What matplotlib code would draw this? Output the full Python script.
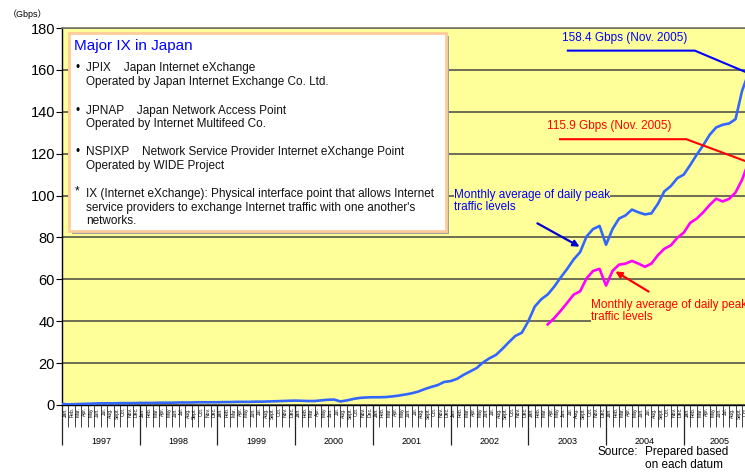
import numpy as np
import matplotlib
matplotlib.use("Agg")
import matplotlib.pyplot as plt
from matplotlib.patches import Rectangle
from matplotlib.ticker import NullFormatter

plt.rcParams['font.family'] = ['Liberation Sans', 'Noto Sans CJK JP', 'DejaVu Sans']

# monthly data, Jan 1997 .. Nov 2005 (Gbps)
peak_traffic = [
    0.5, 0.3, 0.4, 0.5, 0.6, 0.7, 0.8, 0.8, 0.8, 0.9, 0.9, 0.9,            # 1997
    1.0, 1.0, 1.0, 1.1, 1.1, 1.1, 1.2, 1.2, 1.2, 1.3, 1.3, 1.3,            # 1998
    1.3, 1.4, 1.4, 1.5, 1.5, 1.5, 1.6, 1.6, 1.7, 1.8, 1.9, 2.0,            # 1999
    2.1, 2.0, 1.9, 1.9, 2.2, 2.5, 2.6, 1.7, 2.2, 2.9, 3.4, 3.6,            # 2000
    3.7, 3.7, 3.8, 4.1, 4.5, 5.0, 5.6, 6.4, 7.6, 8.6, 9.5, 11.0,           # 2001
    11.4, 12.5, 14.4, 16.0, 17.6, 20.3, 22.3, 23.9, 26.8, 30.0, 33.0, 34.5,  # 2002
    40.0, 47.0, 50.5, 52.8, 56.5, 60.9, 65.0, 69.5, 73.0, 80.5, 84.0, 85.5,  # 2003
    76.5, 84.0, 89.0, 90.5, 93.3, 92.0, 91.0, 91.5, 96.0, 102.0, 104.5, 108.3,  # 2004
    110.0, 114.6, 119.5, 124.0, 129.0, 132.5, 133.8, 134.4, 136.5, 150.0, 158.4,  # 2005
]
# second series starts Apr 2003
second_start = 75
second_traffic = [
    38.5, 41.5, 45.0, 48.8, 52.7, 54.3, 60.5, 64.0, 65.0,                  # 2003
    57.0, 64.0, 67.0, 67.5, 68.8, 67.5, 66.0, 67.5, 71.5, 74.6, 76.2, 79.8,  # 2004
    82.3, 87.0, 89.0, 92.0, 95.5, 98.5, 97.2, 98.4, 101.5, 107.5, 115.9,     # 2005
]
month_names = ["Jan.", "Feb.", "Mar.", "Apr.", "May", "Jun.", "Jul.", "Aug.",
               "Sept.", "Oct.", "Nov.", "Dec."]
years = ["1997", "1998", "1999", "2000", "2001", "2002", "2003", "2004", "2005"]

W, H = 745, 472
fig = plt.figure(figsize=(W / 100, H / 100), dpi=100)


def fx(px):
    return px / W


def fy(py):
    return 1 - py / H


ax = fig.add_axes([fx(62), fy(405), 693 / W, 377 / H])
ax.set_facecolor('#FFFF99')

n = len(peak_traffic)
ax.plot(np.arange(n), peak_traffic, color='#3366FF', lw=1.9, zorder=3)
ax.plot(np.arange(second_start, second_start + len(second_traffic)), second_traffic,
        color='#FF00FF', lw=1.9, zorder=3)

ax.set_xlim(0, 107)
ax.set_ylim(0, 180)

# y axis
ax.set_yticks(range(0, 181, 20))
ax.tick_params(axis='y', labelsize=10.5, length=4, width=0.8, pad=1)
ax.set_axisbelow(True)
ax.yaxis.grid(True, color='#555548', lw=1.2)

# month axis
ax.set_xticks(np.arange(0, n + 1))
ax.xaxis.set_major_formatter(NullFormatter())
ax.set_xticks(np.arange(n) + 0.5, minor=True)
ax.set_xticklabels([month_names[i % 12] for i in range(n)], minor=True,
                   rotation=90, fontsize=3.6)
ax.tick_params(axis='x', which='major', length=16, width=0.6, color='#222222')
ax.tick_params(axis='x', which='minor', length=0, pad=1.5)

# year axis
sec = ax.secondary_xaxis('bottom')
sec.set_xticks(np.arange(0, n + 1, 12))
sec.xaxis.set_major_formatter(NullFormatter())
year_centers = [12 * k + 6 for k in range(len(years) - 1)] + [96 + (n - 96) / 2]
sec.set_xticks(year_centers, minor=True)
sec.set_xticklabels(years, minor=True, fontsize=6.5)
sec.tick_params(which='major', length=29, width=0.9, color='#222222')
sec.tick_params(which='minor', length=0, pad=23)
sec.spines['bottom'].set_visible(False)

for s in ['left', 'bottom']:
    ax.spines[s].set_color('black')
    ax.spines[s].set_linewidth(1.0)
ax.spines['top'].set_color('#777766')
ax.spines['top'].set_linewidth(1.2)

# value call-outs
last_i = n - 1
ax.plot([78.1, 97.7, last_i], [169.2, 169.2, peak_traffic[-1]], color='#0000FF',
        lw=1.5, clip_on=False, zorder=4)
ax.plot([76.9, 96.4, last_i], [126.9, 126.9, second_traffic[-1]], color='#FF0000',
        lw=1.5, clip_on=False, zorder=4)
fig.text(fx(625), fy(38), "158.4 Gbps (Nov. 2005)", color='#0000FF', fontsize=8.5,
         ha='center', va='center')
fig.text(fx(609), fy(126.5), "115.9 Gbps (Nov. 2005)", color='#FF0000', fontsize=8.5,
         ha='center', va='center')

# series labels with arrows
fig.text(fx(454), fy(201), "Monthly average of daily peak\ntraffic levels",
         color='#0000FF', fontsize=8.5, ha='left', va='center', linespacing=1.05,
         bbox=dict(facecolor='#FFFF99', edgecolor='none', pad=0))
fig.text(fx(591), fy(311), "Monthly average of daily peak\ntraffic levels",
         color='#FF0000', fontsize=8.5, ha='left', va='center', linespacing=1.05,
         bbox=dict(facecolor='#FFFF99', edgecolor='none', pad=0))
ax.annotate('', xy=(fx(582), fy(248)), xytext=(fx(535), fy(222)),
            xycoords='figure fraction', textcoords='figure fraction',
            arrowprops=dict(arrowstyle='-|>', color='#0000CC', lw=1.6, mutation_scale=9))
ax.annotate('', xy=(fx(613), fy(270)), xytext=(fx(651), fy(293)),
            xycoords='figure fraction', textcoords='figure fraction',
            arrowprops=dict(arrowstyle='-|>', color='#FF0000', lw=1.6, mutation_scale=9))

# info box
fig.add_artist(Rectangle((fx(72), fy(234)), fx(446) - fx(69), fy(33) - fy(231),
                         transform=fig.transFigure, facecolor='#A0A0A0',
                         edgecolor='none', zorder=1))
fig.add_artist(Rectangle((fx(69), fy(231)), fx(446) - fx(69), fy(33) - fy(231),
                         transform=fig.transFigure, facecolor='white',
                         edgecolor='#FFCC99', lw=2, zorder=1.1))
fig.text(fx(74), fy(46), "Major IX in Japan", color='#0000FF', fontsize=11,
         ha='left', va='center')
box_lines = [
    ("\u2022", "JPIX    Japan Internet eXchange", 68),
    ("", "Operated by Japan Internet Exchange Co. Ltd.", 82),
    ("\u2022", "JPNAP    Japan Network Access Point", 111),
    ("", "Operated by Internet Multifeed Co.", 124),
    ("\u2022", "NSPIXP    Network Service Provider Internet eXchange Point", 152),
    ("", "Operated by WIDE Project", 166),
    ("*", "IX (Internet eXchange): Physical interface point that allows Internet", 194),
    ("", "service providers to exchange Internet traffic with one another's", 208),
    ("", "networks.", 221),
]
for mark, txt, y in box_lines:
    if mark:
        fig.text(fx(75), fy(y - 3 if mark == "*" else y), mark, fontsize=8.5,
                 ha='left', va='center')
    fig.text(fx(86), fy(y), txt, fontsize=8.5, ha='left', va='center', color='#111111')

# unit and source
fig.text(fx(8), fy(14), "\uff08Gbps\uff09", fontsize=6.5, ha='left', va='center')
fig.text(fx(597), fy(452), "Source:", fontsize=8.5, ha='left', va='center')
fig.text(fx(645), fy(458.5), "Prepared based\non each datum", fontsize=8.5,
         ha='left', va='center', linespacing=1.05)

fig.savefig("out.png", dpi=100)
